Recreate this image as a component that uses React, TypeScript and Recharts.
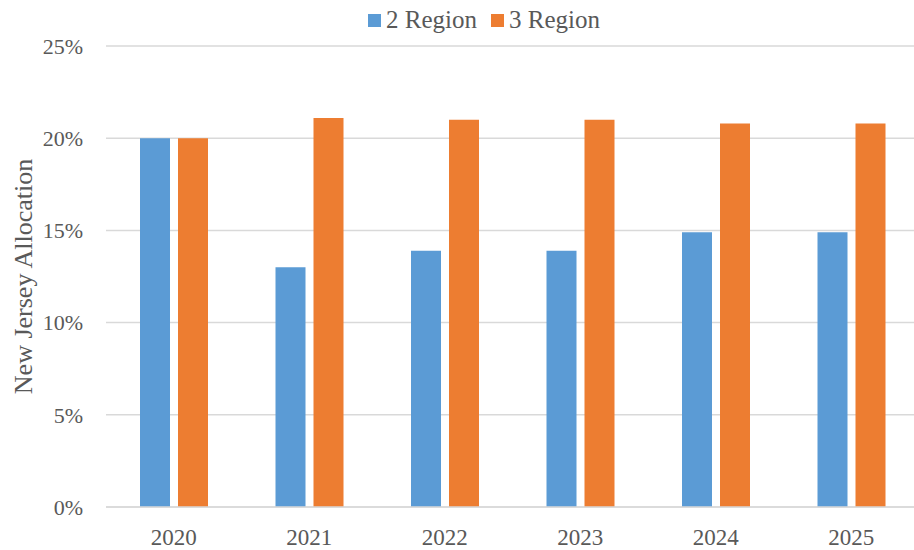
import { BarChart, Bar, XAxis, YAxis, CartesianGrid, Legend } from 'recharts';

const years = ['2020', '2021', '2022', '2023', '2024', '2025'];
const twoRegion = [0.2, 0.13, 0.139, 0.139, 0.149, 0.149];
const threeRegion = [0.2, 0.211, 0.21, 0.21, 0.208, 0.208];
const yTicks = [0, 0.05, 0.1, 0.15, 0.2, 0.25];

const seriesInfo = [
  { key: 'twoRegion', name: '2 Region', color: '#5b9bd5' },
  { key: 'threeRegion', name: '3 Region', color: '#ed7d31' },
];

const data = years.map((year, i) => ({
  year,
  twoRegion: twoRegion[i],
  threeRegion: threeRegion[i],
}));

const FONT = '"Liberation Serif", "Times New Roman", serif';
const TEXT = '#595959';

function LegendBox() {
  return (
    <div style={{ display: 'flex', alignItems: 'center', height: 40, paddingLeft: 368, fontFamily: FONT, fontSize: 25, color: TEXT }}>
      {seriesInfo.map((s) => (
        <span key={s.key} style={{ display: 'flex', alignItems: 'center', marginRight: 14 }}>
          <span style={{ width: 13, height: 13, background: s.color, marginRight: 5, display: 'inline-block' }} />
          {s.name}
        </span>
      ))}
    </div>
  );
}

function AxisTitle({ viewBox }: { viewBox?: { x: number; y: number; width: number; height: number } }) {
  if (!viewBox) return null;
  const cx = 32;
  const cy = viewBox.y + viewBox.height / 2;
  return (
    <text x={cx} y={cy} transform={`rotate(-90, ${cx}, ${cy})`} textAnchor="middle" fontFamily={FONT} fontSize={26} fill={TEXT}>
      New Jersey Allocation
    </text>
  );
}

export default function App() {
  return (
    <div style={{ position: 'absolute', left: 0, top: 0, width: 914, height: 550, overflow: 'hidden', background: '#fff' }}>
      <BarChart width={930} height={550} data={data} margin={{ top: 6, right: 11, bottom: 0, left: 0 }} barGap={8} barCategoryGap="25%">
        <Legend verticalAlign="top" height={40} wrapperStyle={{ top: 0, left: 0, width: 914 }} content={() => <LegendBox />} />
        <CartesianGrid vertical={false} stroke="#d9d9d9" strokeWidth={1.5} />
        <XAxis
          dataKey="year"
          axisLine={{ stroke: '#d9d9d9', strokeWidth: 1.5 }}
          tickLine={false}
          tickSize={0}
          tickMargin={22}
          height={43}
          tick={{ fontFamily: FONT, fontSize: 23, fill: TEXT }}
        />
        <YAxis
          width={106}
          domain={[0, 0.25]}
          ticks={yTicks}
          tickFormatter={(v: number) => `${Math.round(v * 100)}%`}
          axisLine={false}
          tickLine={false}
          tickSize={0}
          tickMargin={23}
          tick={{ fontFamily: FONT, fontSize: 22, fill: TEXT }}
          label={<AxisTitle />}
        />
        {seriesInfo.map((s) => (
          <Bar key={s.key} dataKey={s.key} name={s.name} fill={s.color} barSize={30} isAnimationActive={false} />
        ))}
      </BarChart>
    </div>
  );
}
